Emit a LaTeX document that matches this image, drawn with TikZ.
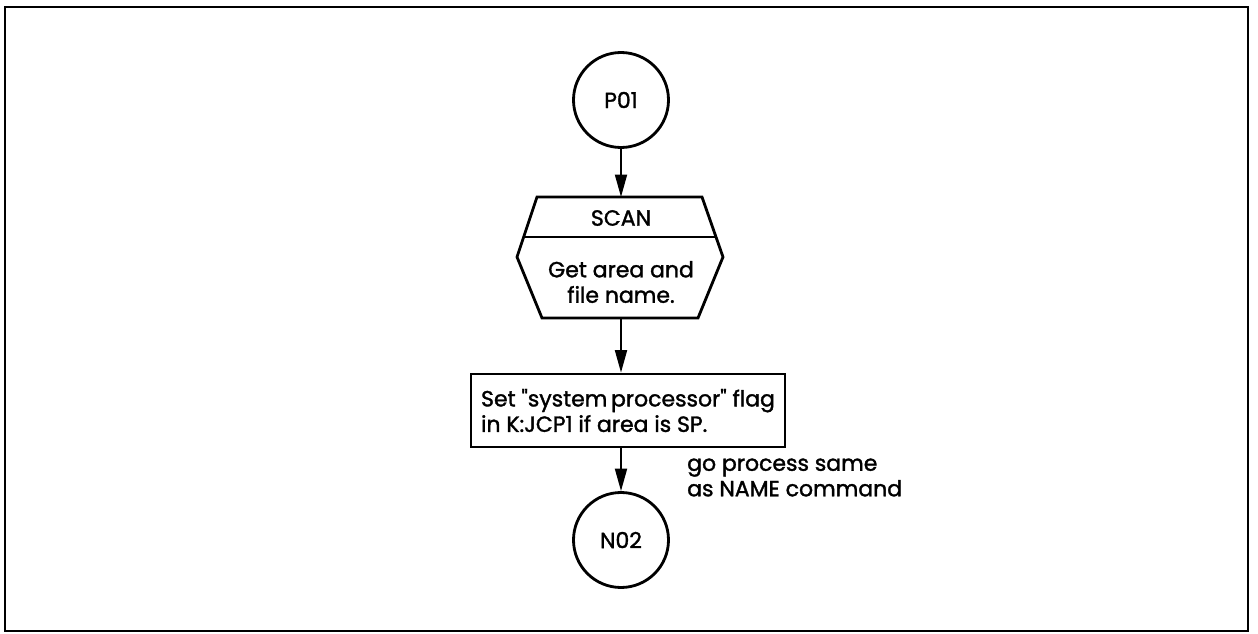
\documentclass[tikz,border=0pt]{standalone}
\usepackage{fontspec}
\setmainfont[FakeBold=1.5]{Poppins}
\usepackage{tikz}
\usetikzlibrary{calc}
\usetikzlibrary{arrows.meta}
\usetikzlibrary{positioning}

\tikzset{
    conn/.style={circle,draw,line width=1.6pt,minimum size=1.9cm,inner sep=0pt},
    procbox/.style={draw,line width=1.6pt,align=left,minimum width=6.28cm,minimum height=1.46cm,inner sep=2pt},
    flow/.style={line width=1.1pt,-{Triangle[length=0.45cm,width=0.24cm]}},
}

\begin{document}
\begin{tikzpicture}[font=\fontsize{12.5}{14.5}\selectfont]
            \useasboundingbox (0,0) rectangle (25.16,12.66);
            \draw[line width=1.4pt] (0.1,0.04) rectangle (24.96,12.52);

            \coordinate (hexTL) at (10.74,8.72);
            \coordinate (hexTR) at (14.04,8.72);
            \coordinate (hexL) at (10.34,7.52);
            \coordinate (hexR) at (14.46,7.52);
            \coordinate (hexBL) at (10.84,6.30);
            \coordinate (hexBR) at (13.96,6.30);
            \coordinate (hexTop) at (12.42,8.72);
            \coordinate (hexBot) at (12.42,6.30);

            \node[conn] (p01) at (12.42,10.66) {P01};
            \node[conn] (n02) at (12.42,1.86) {N02};

            \draw[line width=1.6pt] (hexTL)--(hexTR)--(hexR)--(hexBR)--(hexBL)--(hexL)--cycle;
            \draw[line width=1.6pt] ($(hexTL)!0.667!(hexL)$)--($(hexTR)!0.667!(hexR)$);
            \node (scan) at (12.42,8.30) {SCAN};
            \node[align=center] (getname) at (12.42,7.02) {Get area and\\file name.};

            \node[procbox] (setflag) at (12.56,4.45) {Set \textquotedbl system\,processor\textquotedbl{} flag\\in K:JCP1 if area is SP.};
            \node[anchor=west,align=left] (gonote) at (13.62,3.11) {go process same\\as NAME command};

            \draw[flow] (p01) -- (hexTop);
            \draw[flow] (hexBot) -- (hexBot |- setflag.north);
            \draw[flow] (hexBot |- setflag.south) -- (n02);
        \end{tikzpicture}
\end{document}
